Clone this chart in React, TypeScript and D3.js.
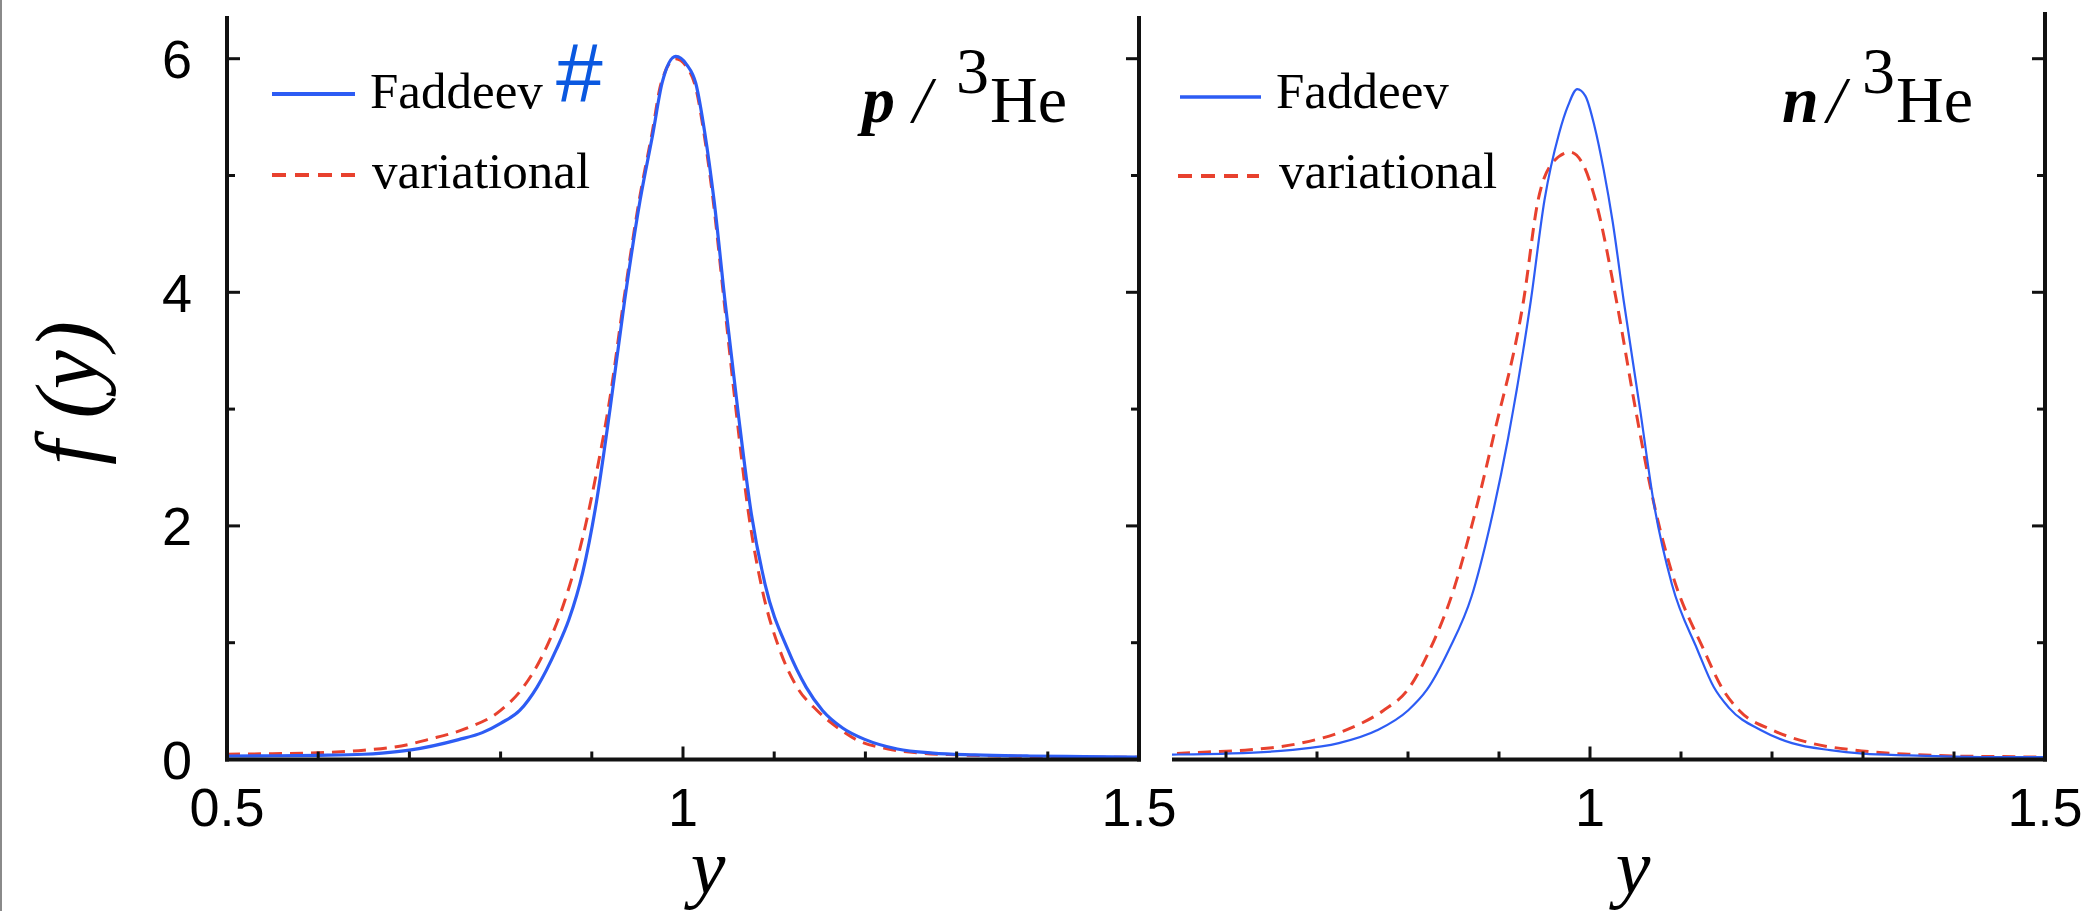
import React, { useEffect } from "react";
import * as d3 from "d3";

// ---------- data ----------
const leftFaddeevX = [0.50,0.55,0.60,0.65,0.67,0.70,0.754,0.78,0.80,0.821,0.84,0.861,0.875,0.89,0.905,0.92,0.936,0.953,0.967,0.977,0.992,1.004,1.014,1.024,1.034,1.046,1.06,1.075,1.09,1.115,1.135,1.153,1.175,1.2,1.235,1.274,1.32,1.38,1.44,1.5];
const leftFaddeevF = [0.03,0.032,0.036,0.045,0.055,0.08,0.17,0.23,0.31,0.42,0.62,0.94,1.2,1.6,2.2,3.0,3.93,4.79,5.36,5.79,6.02,5.95,5.79,5.36,4.79,3.93,3.0,2.1,1.5,0.94,0.62,0.42,0.27,0.17,0.09,0.055,0.04,0.03,0.025,0.02];
const leftVarX = [0.50,0.55,0.60,0.65,0.70,0.72,0.76,0.80,0.825,0.849,0.87,0.89,0.905,0.92,0.935,0.952,0.966,0.976,0.992,1.004,1.014,1.023,1.033,1.045,1.058,1.072,1.087,1.106,1.125,1.147,1.17,1.19,1.225,1.26,1.3,1.35,1.4,1.45,1.5];
const leftVarF = [0.045,0.05,0.058,0.08,0.13,0.17,0.26,0.42,0.62,0.94,1.35,1.9,2.45,3.1,3.93,4.79,5.36,5.79,6.0,5.93,5.75,5.36,4.79,3.93,3.0,2.1,1.45,0.94,0.62,0.42,0.27,0.17,0.09,0.055,0.04,0.03,0.025,0.02,0.02];

const rightFaddeevX = [0.5,0.54,0.6,0.67,0.724,0.766,0.80,0.821,0.845,0.87,0.89,0.91,0.935,0.95,0.966,0.976,0.986,0.995,1.005,1.015,1.025,1.037,1.055,1.07,1.09,1.118,1.136,1.153,1.188,1.222,1.264,1.3,1.35,1.4,1.45,1.5];
const rightFaddeevF = [0.04,0.042,0.05,0.08,0.14,0.25,0.42,0.60,0.94,1.4,2.0,2.75,3.93,4.79,5.36,5.6,5.74,5.68,5.42,5.05,4.6,3.93,3.0,2.2,1.5,0.94,0.62,0.44,0.25,0.14,0.08,0.05,0.035,0.025,0.02,0.02];
const rightVarX = [0.5,0.54,0.58,0.621,0.682,0.731,0.773,0.80,0.824,0.85,0.87,0.895,0.927,0.943,0.96,0.978,0.992,1.006,1.029,1.05,1.07,1.09,1.125,1.146,1.164,1.201,1.243,1.291,1.35,1.4,1.45,1.5];
const rightVarF = [0.045,0.05,0.065,0.08,0.14,0.25,0.42,0.60,0.94,1.45,2.0,2.8,3.93,4.79,5.12,5.2,5.1,4.79,3.93,3.0,2.2,1.6,0.94,0.60,0.42,0.25,0.14,0.08,0.045,0.03,0.025,0.02];

const yMajorTicks = [0, 2, 4, 6];
const yMinorTicks = [1, 3, 5];
const xMajorTicks = [0.5, 1, 1.5];
const xMinorTicks = [0.6, 0.7, 0.8, 0.9, 1.1, 1.2, 1.3, 1.4];
const xTickLabels = ["0.5", "1", "1.5"];
const legendLabels = ["Faddeev", "variational"];

// ---------- layout ----------
const W = 2087, H = 911;
const Y0 = 759.5, YTOP = 16;
const yScale = d3.scaleLinear().domain([0, 6]).range([Y0, 58.7]);
const xLeft = d3.scaleLinear().domain([0.5, 1.5]).range([227, 1139]);
const xRight = d3.scaleLinear().domain([0.5, 1.5]).range([1135, 2045]);
const RIGHT_CLIP = 1172;

const BLUE = "#2d5cf4";
const RED = "#e8412e";
const AX = "#111";
const SANS = "'Liberation Sans', Arial, Helvetica, sans-serif";
const SERIF = "'Liberation Serif', 'Times New Roman', serif";

function mkPath(xs: number[], fs: number[], xs2: d3.ScaleLinear<number, number>) {
  const pts = xs.map((x, i) => [x, fs[i]] as [number, number]);
  return d3.line<[number, number]>()
    .x(d => xs2(d[0]))
    .y(d => yScale(d[1]))
    .curve(d3.curveMonotoneX)(pts) || "";
}

export default function App() {
  useEffect(() => {
    document.body.style.margin = "0";
  }, []);

  const yTop = yScale.invert(YTOP);

  return (
    <svg width={W} height={H} style={{ position: "absolute", left: 0, top: 0, background: "#fff" }}>
      <defs>
        <clipPath id="clipL">
          <rect x={227} y={0} width={1139 - 227} height={H} />
        </clipPath>
        <clipPath id="clipR">
          <rect x={RIGHT_CLIP} y={0} width={2045 - RIGHT_CLIP} height={H} />
        </clipPath>
      </defs>
      <rect x={0} y={0} width={W} height={H} fill="#fff" />
      {/* page border at far left */}
      <line x1={1} x2={1} y1={0} y2={H} stroke="#8a8a8a" strokeWidth={2} />

      {/* ---------- Left panel ---------- */}
      <g clipPath="url(#clipL)">
        <path d={mkPath(leftVarX, leftVarF, xLeft)} fill="none" stroke={RED} strokeWidth={3} strokeDasharray="13,8" />
        <path d={mkPath(leftFaddeevX, leftFaddeevF, xLeft)} fill="none" stroke={BLUE} strokeWidth={3.2} />
      </g>
      {/* axes */}
      <line x1={xLeft(0.5)} x2={xLeft(0.5)} y1={yScale(yTop)} y2={Y0 + 2} stroke={AX} strokeWidth={4} />
      <line x1={xLeft(1.5)} x2={xLeft(1.5)} y1={yScale(yTop)} y2={Y0 + 2} stroke={AX} strokeWidth={4} />
      <line x1={xLeft(0.5) - 2} x2={xLeft(1.5) + 2} y1={Y0} y2={Y0} stroke={AX} strokeWidth={4} />
      {yMajorTicks.map(t => (
        <g key={"ylM" + t}>
          <line x1={xLeft(0.5)} x2={xLeft(0.5) + 13} y1={yScale(t)} y2={yScale(t)} stroke={AX} strokeWidth={3} />
          <line x1={xLeft(1.5)} x2={xLeft(1.5) - 13} y1={yScale(t)} y2={yScale(t)} stroke={AX} strokeWidth={3} />
          <text x={192} y={yScale(t)} dy="0.36em" textAnchor="end" fontFamily={SANS} fontSize={54} fill="#000">{t}</text>
        </g>
      ))}
      {yMinorTicks.map(t => (
        <g key={"ylm" + t}>
          <line x1={xLeft(0.5)} x2={xLeft(0.5) + 8} y1={yScale(t)} y2={yScale(t)} stroke={AX} strokeWidth={3} />
          <line x1={xLeft(1.5)} x2={xLeft(1.5) - 8} y1={yScale(t)} y2={yScale(t)} stroke={AX} strokeWidth={3} />
        </g>
      ))}
      {xMajorTicks.map(t => (
        <line key={"xlM" + t} x1={xLeft(t)} x2={xLeft(t)} y1={Y0} y2={Y0 - 13} stroke={AX} strokeWidth={3} />
      ))}
      {xMinorTicks.map(t => (
        <line key={"xlm" + t} x1={xLeft(t)} x2={xLeft(t)} y1={Y0} y2={Y0 - 8} stroke={AX} strokeWidth={3} />
      ))}
      {xMajorTicks.map((t, i) => (
        <text key={"xll" + t} x={xLeft(t)} y={826} textAnchor="middle" fontFamily={SANS} fontSize={54} fill="#000">{xTickLabels[i]}</text>
      ))}
      {/* y label */}
      <text transform="translate(97,393) rotate(-90)" textAnchor="middle" fontFamily={SERIF} fontStyle="italic" fontSize={88} fill="#000">f (y)</text>
      {/* x label */}
      <text x={708} y={893} textAnchor="middle" fontFamily={SERIF} fontStyle="italic" fontSize={78} fill="#000">y</text>
      {/* legend */}
      <line x1={272} x2={355} y1={94} y2={94} stroke={BLUE} strokeWidth={4} />
      <text x={370} y={108} fontFamily={SERIF} fontSize={51} fill="#000">{legendLabels[0]}</text>
      <text x={556} y={102} fontFamily={SANS} fontSize={84} fill="#0a58e0">#</text>
      <line x1={272} x2={355} y1={175} y2={175} stroke={RED} strokeWidth={4} strokeDasharray="14,9" />
      <text x={372} y={188} fontFamily={SERIF} fontSize={51} fill="#000">{legendLabels[1]}</text>
      {/* panel label */}
      <text x={862} y={122} fontFamily={SERIF} fontSize={66} fill="#000">
        <tspan fontStyle="italic" fontWeight="bold">p</tspan>
        <tspan x={913} fontStyle="italic">/</tspan>
        <tspan x={956} dy={-29}>3</tspan>
        <tspan x={990} dy={29}>He</tspan>
      </text>

      {/* ---------- Right panel ---------- */}
      <g clipPath="url(#clipR)">
        <path d={mkPath(rightVarX, rightVarF, xRight)} fill="none" stroke={RED} strokeWidth={3} strokeDasharray="13,8" />
        <path d={mkPath(rightFaddeevX, rightFaddeevF, xRight)} fill="none" stroke={BLUE} strokeWidth={2.2} />
      </g>
      <line x1={xRight(1.5)} x2={xRight(1.5)} y1={12} y2={Y0 + 2} stroke={AX} strokeWidth={4} />
      <line x1={RIGHT_CLIP} x2={xRight(1.5) + 2} y1={Y0} y2={Y0} stroke={AX} strokeWidth={4} />
      {yMajorTicks.map(t => (
        <line key={"yrM" + t} x1={xRight(1.5)} x2={xRight(1.5) - 13} y1={yScale(t)} y2={yScale(t)} stroke={AX} strokeWidth={3} />
      ))}
      {yMinorTicks.map(t => (
        <line key={"yrm" + t} x1={xRight(1.5)} x2={xRight(1.5) - 8} y1={yScale(t)} y2={yScale(t)} stroke={AX} strokeWidth={3} />
      ))}
      {xMajorTicks.filter(t => xRight(t) > RIGHT_CLIP).map(t => (
        <line key={"xrM" + t} x1={xRight(t)} x2={xRight(t)} y1={Y0} y2={Y0 - 13} stroke={AX} strokeWidth={3} />
      ))}
      {xMinorTicks.filter(t => xRight(t) > RIGHT_CLIP).map(t => (
        <line key={"xrm" + t} x1={xRight(t)} x2={xRight(t)} y1={Y0} y2={Y0 - 8} stroke={AX} strokeWidth={3} />
      ))}
      {xMajorTicks.map((t, i) => (xRight(t) > RIGHT_CLIP ? (
        <text key={"xrl" + t} x={xRight(t)} y={826} textAnchor="middle" fontFamily={SANS} fontSize={54} fill="#000">{xTickLabels[i]}</text>
      ) : null))}
      <text x={1633} y={893} textAnchor="middle" fontFamily={SERIF} fontStyle="italic" fontSize={78} fill="#000">y</text>
      {/* legend */}
      <line x1={1180} x2={1261} y1={97} y2={97} stroke={BLUE} strokeWidth={3.5} />
      <text x={1276} y={108} fontFamily={SERIF} fontSize={51} fill="#000">{legendLabels[0]}</text>
      <line x1={1178} x2={1259} y1={176} y2={176} stroke={RED} strokeWidth={4} strokeDasharray="14,9" />
      <text x={1279} y={188} fontFamily={SERIF} fontSize={51} fill="#000">{legendLabels[1]}</text>
      {/* panel label */}
      <text x={1782} y={122} fontFamily={SERIF} fontSize={66} fill="#000">
        <tspan fontStyle="italic" fontWeight="bold">n</tspan>
        <tspan x={1827} fontStyle="italic">/</tspan>
        <tspan x={1862} dy={-29}>3</tspan>
        <tspan x={1896} dy={29}>He</tspan>
      </text>
    </svg>
  );
}
